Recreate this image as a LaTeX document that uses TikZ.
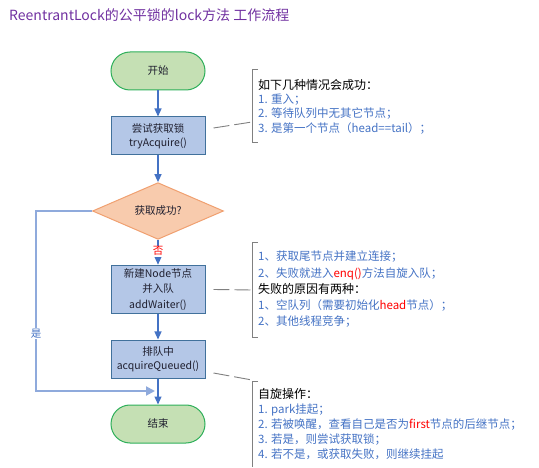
\documentclass[tikz,border=0pt]{standalone}
\usepackage{fontspec}
\setmainfont{Noto Sans CJK SC}
\usetikzlibrary{shapes.geometric,arrows.meta}
\definecolor{titlecol}{HTML}{7030A0}
\definecolor{termfill}{HTML}{C5E0B4}
\definecolor{termline}{HTML}{2EAF5A}
\definecolor{procfill}{HTML}{B4C7E7}
\definecolor{procline}{HTML}{41719C}
\definecolor{decfill}{HTML}{F8CBAD}
\definecolor{decline}{HTML}{F0A070}
\definecolor{flow}{HTML}{4472C4}
\definecolor{loopcol}{HTML}{8FAADC}
\definecolor{notecol}{HTML}{4472C4}
\definecolor{brkcol}{HTML}{808080}
\definecolor{txtcol}{HTML}{1F1F2F}
\begin{document}
\begin{tikzpicture}[x=1pt,y=-1pt,
  term/.style={draw=termline, fill=termfill, line width=1pt, rounded corners=19pt,
    minimum width=94pt, minimum height=38pt, text=txtcol, font=\fontsize{10.5}{13}\selectfont},
  proc/.style={draw=procline, fill=procfill, line width=1pt,
    minimum width=94pt, minimum height=38pt, align=center, text=txtcol,
    font=\fontsize{10.5}{14}\selectfont},
  decision/.style={diamond, draw=decline, fill=decfill, line width=1pt, inner sep=0pt,
    minimum width=131pt, minimum height=56pt, text=txtcol, font=\fontsize{10.5}{13}\selectfont},
  conn/.style={draw=flow, line width=1.2pt, -{Triangle[width=7pt,length=8pt]}},
  loopline/.style={draw=loopcol, line width=2pt, -{Triangle[width=9pt,length=9pt]}},
  callout/.style={draw=brkcol, line width=0.9pt, dash pattern=on 16pt off 5pt},
  brk/.style={draw=brkcol, line width=0.9pt},
  note/.style={anchor=north west, inner sep=0pt, align=left, text=notecol},
  lbl/.style={fill=white, inner sep=1pt, font=\fontsize{10.5}{12}\selectfont}
]
\useasboundingbox (0,0) rectangle (539,468);

\node[anchor=west, inner sep=0pt, text=titlecol, font=\fontsize{14}{16}\selectfont] (title) at (9,15) {ReentrantLock的公平锁的lock方法 工作流程};

\node[term] (start) at (158,71) {开始};
\node[proc] (try) at (158,136) {尝试获取锁\\tryAcquire()};
\node[decision] (dec) at (158,211) {获取成功?};
\node[proc, minimum height=47pt, font=\fontsize{10.5}{15.5}\selectfont] (add) at (158,289.5) {新建Node节点\\并入队\\addWaiter()};
\node[proc] (queue) at (158,359) {排队中\\acquireQueued()};
\node[term] (end) at (158,424) {结束};

\draw[conn] (start) -- (try);
\draw[conn] (try) -- (dec);
\draw[conn] (dec) -- node[lbl, text=red, pos=0.45] (no) {否} (add);
\draw[conn] (add) -- (queue);
\coordinate (loopend) at (155,391);
\coordinate (lc) at (36,211);
\draw[loopline] (dec.west) -- (lc) -- node[lbl, text=notecol, pos=0.68] (yes) {是} (lc |- loopend) -- (loopend);
\draw[conn] (queue) -- (end);

% annotation 1
\draw[brk] (258,69) -- (252,69) -- (252,142) -- (258,142);
\coordinate (b1) at (252,122);
\draw[callout] ([xshift=8pt,yshift=8pt]try.east) -- (b1);
\node[note, font=\fontsize{11.5}{14.3}\selectfont] (n1) at (258,79)
  {{\color{black}\fontsize{12}{14.3}\selectfont 如下几种情况会成功：}\\
   1. 重入；\\
   2. 等待队列中无其它节点；\\
   3. 是第一个节点（head==tail）；};

% annotation 2
\draw[brk] (258,242) -- (252,242) -- (252,337) -- (258,337);
\coordinate (b2) at (252,290);
\draw[callout] ([xshift=8pt]add.east) -- (b2);
\node[note, font=\fontsize{11.5}{16.2}\selectfont] (n2) at (258,251)
  {1、获取尾节点并建立连接；\\
   2、失败就进入{\color{red}enq()}方法自旋入队；\\
   {\color{black}\fontsize{12}{16.2}\selectfont 失败的原因有两种：}\\
   1、空队列（需要初始化{\color{red}head}节点）；\\
   2、其他线程竞争；};

% annotation 3
\draw[brk] (258,381) -- (252,381) -- (252,467);
\coordinate (b3) at (252,380);
\draw[callout] ([xshift=8pt,yshift=-14pt]queue.east) -- (b3);
\node[note, font=\fontsize{11.5}{15}\selectfont] (n3) at (258,388)
  {{\color{black}\fontsize{12}{15}\selectfont 自旋操作：}\\
   1. park挂起；\\
   2. 若被唤醒，查看自己是否为{\color{red}first}节点的后继节点；\\
   3. 若是，则尝试获取锁；\\
   4. 若不是，或获取失败，则继续挂起};
\end{tikzpicture}
\end{document}
